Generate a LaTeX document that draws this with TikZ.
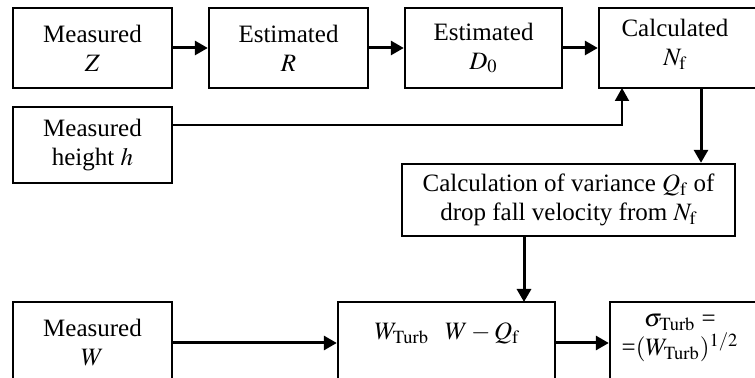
\documentclass[tikz,border=0pt]{standalone}
\usepackage{mathptmx}
\usepackage{fontspec}
\setmainfont{Liberation Serif}
\usetikzlibrary{arrows.meta,calc,positioning}
\tikzset{
  block/.style={draw,rectangle,line width=1.2pt,align=center,inner sep=0pt,font=\fontsize{12.5}{14.5}\selectfont},
  txt/.style={align=center,inner sep=0pt,font=\fontsize{12.5}{14.5}\selectfont},
  flow/.style={->,line width=1.5pt},
  feed/.style={->,line width=1pt}
}

\begin{document}
\begin{tikzpicture}[x=0.5pt,y=-0.5pt,>={Triangle[length=6.5pt,width=7pt]}]
  \useasboundingbox (0,0) rectangle (755,378);
  \clip (0,0) rectangle (755,378);
  % top row
  \node[block,minimum width=79.5pt,minimum height=40pt] (mz) at (92.5,48) {Measured\\$Z$};
  \node[block,minimum width=79.5pt,minimum height=40pt] (er) at (288.5,48) {Estimated\\$R$};
  \node[block,minimum width=78.5pt,minimum height=40pt] (ed) at (483.5,48) {Estimated\\$D_{0}$};
  \node[block,minimum width=80.5pt,minimum height=40pt] (cn) at (679.5,48) {};
  \node[txt] (cn-txt) at (675,44) {Calculated\\$N_{\mathrm{f}}$};
  \node[block,minimum width=79.5pt,minimum height=38pt] (mh) at (92.5,145) {Measured\\height $h$};
  % middle
  \node[block,minimum width=166.5pt,minimum height=36pt] (cv) at (568.5,200)
    {Calculation of variance $Q_{\mathrm{f}}$ of\\drop fall velocity from $N_{\mathrm{f}}$};
  % bottom row
  \node[block,minimum width=79.5pt,minimum height=41pt] (mw) at (92.5,343) {Measured\\$W$};
  \node[block,minimum width=108.5pt,minimum height=41pt] (tw) at (446.5,343) {};
  \node[txt] (tw-txt) at (447,333) {$W_{\mathrm{Turb}}$\hspace{8pt}$W-Q_{\mathrm{f}}$};
  \node[block,minimum width=75pt,minimum height=41pt] (sg) at (685,343) {};
  \node[txt] (sg-txt) at (680,338) {$\sigma_{\mathrm{Turb}}$ =\\=$(W_{\mathrm{Turb}})^{1/2}$};

  \coordinate (hout) at ($(mh.north east)!0.24!(mh.south east)$);
  \coordinate (hin) at (622,88);
  \coordinate (nfout) at (701,88);
  \coordinate (qin) at (524,302);

  \draw[flow] (mz) -- (er);
  \draw[flow] (er) -- (ed);
  \draw[flow] (ed) -- (cn);
  \draw[feed] (hout) -| (hin);
  \draw[flow] (nfout) -- (nfout |- cv.north);
  \draw[flow] (qin |- cv.south) -- (qin);
  \draw[flow] (mw) -- (tw);
  \draw[flow] (tw) -- (sg);
\end{tikzpicture}
\end{document}
